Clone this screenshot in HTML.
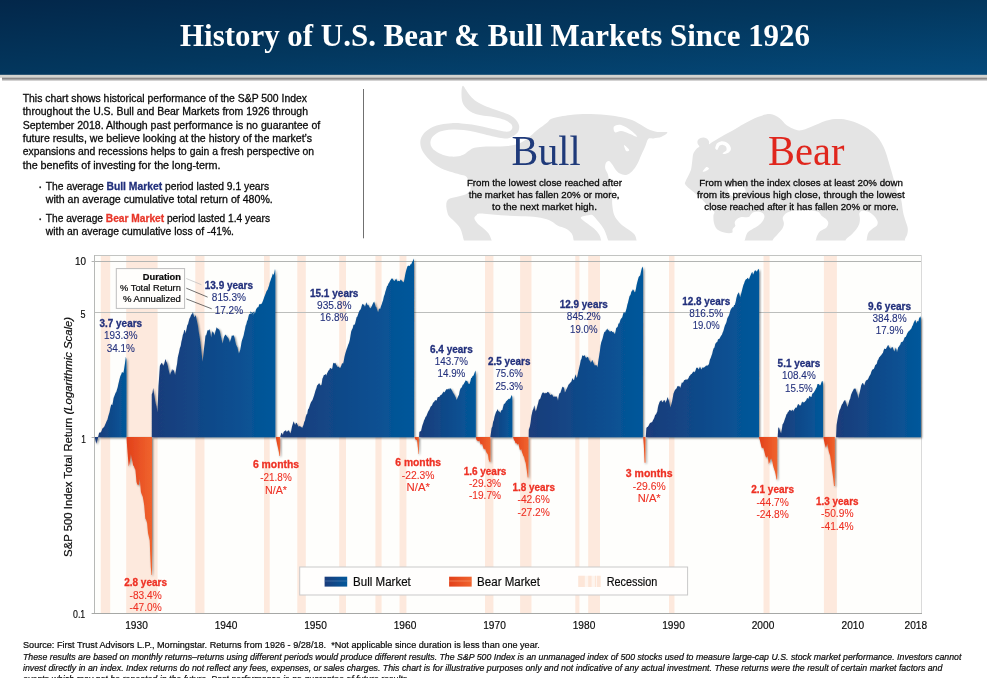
<!DOCTYPE html>
<html lang="en"><head><meta charset="utf-8"><title>History of U.S. Bear &amp; Bull Markets Since 1926</title>
<style>
html,body{margin:0;padding:0;background:#fff;}
body{width:987px;height:678px;overflow:hidden;position:relative;font-family:"Liberation Sans",sans-serif;}
svg{position:absolute;left:0;top:0;display:block}
text{font-family:"Liberation Sans",sans-serif;}
.serif{font-family:"Liberation Serif",serif;}
.b{font-weight:bold}
.i{font-style:italic}
.body{font-size:10.2px;fill:#0a0a0a;stroke:#0a0a0a;stroke-width:0.28px}
.def{font-size:9.6px;fill:#0a0a0a;stroke:#0a0a0a;stroke-width:0.28px}
.bl{fill:#22307c;font-size:10.7px;stroke:#22307c;stroke-width:0.1px}
.bl.b{stroke-width:0.3px}
.br{fill:#ee3124;font-size:10.7px;stroke:#ee3124;stroke-width:0.1px}
.br.b{stroke-width:0.3px}
.ax{font-size:10.8px;fill:#0a0a0a;stroke:#0a0a0a;stroke-width:0.18px}
.ft{font-size:9.6px;fill:#0a0a0a;stroke:#0a0a0a;stroke-width:0.22px}
</style></head><body>
<svg width="987" height="678" viewBox="0 0 987 678">
<defs>
<linearGradient id="hdr" x1="0" y1="0" x2="1" y2="1">
<stop offset="0" stop-color="#03274a"/><stop offset="0.5" stop-color="#03375e"/><stop offset="1" stop-color="#044a7b"/>
</linearGradient>
<linearGradient id="hshadow" x1="0" y1="0" x2="0" y2="1">
<stop offset="0" stop-color="#d6d6d2"/><stop offset="0.48" stop-color="#d0d0cc"/><stop offset="0.5" stop-color="#8c8a8a"/><stop offset="0.8" stop-color="#9a9898"/><stop offset="1" stop-color="#ffffff"/>
</linearGradient>
<linearGradient id="bearg" x1="0" y1="0" x2="1" y2="0">
<stop offset="0" stop-color="#e2401a"/><stop offset="1" stop-color="#f0642e"/>
</linearGradient>
<filter id="ds" x="-5%" y="-5%" width="112%" height="112%">
<feGaussianBlur in="SourceAlpha" stdDeviation="1.1"/><feOffset dx="1.2" dy="1.2"/>
<feComponentTransfer><feFuncA type="linear" slope="0.55"/></feComponentTransfer>
<feMerge><feMergeNode/><feMergeNode in="SourceGraphic"/></feMerge>
</filter>
<clipPath id="silclip"><rect x="400" y="80" width="587" height="160.6"/></clipPath>
<clipPath id="plotclip"><rect x="94" y="256" width="927" height="356.5"/></clipPath>

<linearGradient id="bg1" gradientUnits="userSpaceOnUse" x1="98.0" y1="0" x2="126.4" y2="0"><stop offset="0" stop-color="#1b3c7a"/><stop offset="1" stop-color="#02589b"/></linearGradient>
<linearGradient id="bg2" gradientUnits="userSpaceOnUse" x1="152.0" y1="0" x2="275.3" y2="0"><stop offset="0" stop-color="#1b3c7a"/><stop offset="1" stop-color="#02589b"/></linearGradient>
<linearGradient id="bg3" gradientUnits="userSpaceOnUse" x1="280.5" y1="0" x2="414.1" y2="0"><stop offset="0" stop-color="#1b3c7a"/><stop offset="1" stop-color="#02589b"/></linearGradient>
<linearGradient id="bg4" gradientUnits="userSpaceOnUse" x1="419.1" y1="0" x2="475.8" y2="0"><stop offset="0" stop-color="#1b3c7a"/><stop offset="1" stop-color="#02589b"/></linearGradient>
<linearGradient id="bg5" gradientUnits="userSpaceOnUse" x1="490.4" y1="0" x2="512.3" y2="0"><stop offset="0" stop-color="#1b3c7a"/><stop offset="1" stop-color="#02589b"/></linearGradient>
<linearGradient id="bg6" gradientUnits="userSpaceOnUse" x1="528.7" y1="0" x2="642.9" y2="0"><stop offset="0" stop-color="#1b3c7a"/><stop offset="1" stop-color="#02589b"/></linearGradient>
<linearGradient id="bg7" gradientUnits="userSpaceOnUse" x1="645.8" y1="0" x2="759.0" y2="0"><stop offset="0" stop-color="#1b3c7a"/><stop offset="1" stop-color="#02589b"/></linearGradient>
<linearGradient id="bg8" gradientUnits="userSpaceOnUse" x1="777.7" y1="0" x2="823.0" y2="0"><stop offset="0" stop-color="#1b3c7a"/><stop offset="1" stop-color="#02589b"/></linearGradient>
<linearGradient id="bg9" gradientUnits="userSpaceOnUse" x1="836.1" y1="0" x2="920.9" y2="0"><stop offset="0" stop-color="#1b3c7a"/><stop offset="1" stop-color="#02589b"/></linearGradient>
</defs>
<rect x="0" y="0" width="987" height="75" fill="url(#hdr)"/>
<rect x="0" y="74.8" width="987" height="3" fill="#d4d4d0"/>
<rect x="2" y="77.6" width="985" height="2.2" fill="#8b8989"/>
<rect x="2" y="79.8" width="985" height="1" fill="#c9c8c8"/>
<text class="serif b" x="180" y="46" font-size="31.5" fill="#fff" textLength="630" lengthAdjust="spacingAndGlyphs">History of U.S. Bear &amp; Bull Markets Since 1926</text>
<g clip-path="url(#silclip)" fill="#e4e4e4">
<path d="M463.0,85.7 C463.8,85.7 464.9,88.3 466.1,90.0 C467.3,91.7 468.7,94.2 470.4,96.1 C472.1,98.0 473.9,99.9 476.5,101.6 C479.1,103.3 482.6,104.9 486.2,106.4 C489.8,107.9 494.8,109.4 498.4,110.7 C502.0,112.0 505.3,112.9 508.1,114.3 C510.9,115.7 513.6,117.4 515.4,119.2 C517.2,121.0 518.5,123.3 519.0,125.3 C519.5,127.3 519.2,129.6 518.4,131.3 C517.6,133.0 515.9,134.4 514.2,135.6 C512.6,136.8 510.4,137.8 508.5,138.2 C506.6,138.6 505.2,138.4 502.9,138.2 C500.6,138.0 497.7,137.5 494.6,136.8 C491.5,136.2 487.7,135.2 484.3,134.3 C480.9,133.5 477.4,132.4 474.0,131.7 C470.6,131.0 467.1,130.4 463.7,130.1 C460.2,129.8 456.6,129.5 453.3,129.6 C450.0,129.7 446.9,130.0 444.1,130.6 C441.4,131.2 438.8,132.1 436.8,133.2 C434.8,134.3 433.3,135.8 432.2,137.3 C431.1,138.9 430.5,140.8 430.4,142.5 C430.3,144.2 430.8,145.7 431.7,147.2 C432.6,148.7 433.9,150.0 435.8,151.3 C437.7,152.6 440.4,154.0 443.0,154.9 C445.6,155.8 448.7,156.4 451.3,156.6 C453.9,156.8 456.3,156.6 458.5,156.2 C460.7,155.8 463.0,154.8 464.7,153.9 C466.4,153.0 467.4,151.8 468.8,150.8 C470.2,149.9 471.1,148.8 473.0,148.2 C474.9,147.5 476.9,147.2 480.2,146.9 C483.5,146.6 488.0,146.8 492.6,146.6 C497.2,146.4 503.7,146.5 508.1,146.0 C512.5,145.5 515.8,144.7 519.0,143.5 C522.2,142.3 524.5,140.8 527.5,138.6 C530.5,136.4 534.0,132.7 537.3,130.1 C540.5,127.5 544.5,124.7 547.0,122.8 C549.5,120.9 548.3,119.8 552.2,118.5 C556.1,117.2 564.0,115.6 570.4,114.9 C576.8,114.2 584.0,114.0 590.7,114.1 C597.5,114.2 605.2,114.8 610.9,115.5 C616.6,116.2 621.0,117.1 625.1,118.1 C629.2,119.1 631.5,119.8 635.2,121.6 C638.9,123.4 643.7,127.0 647.4,128.7 C651.1,130.4 654.2,131.3 657.5,131.9 C660.8,132.5 666.6,131.5 667.3,132.3 C668.0,133.1 663.9,135.8 661.6,136.8 C659.3,137.8 655.7,138.1 653.5,138.4 C651.3,138.7 649.8,137.6 648.4,138.8 C647.0,140.1 646.6,143.2 645.4,145.9 C644.2,148.6 642.6,152.0 641.3,155.0 C639.9,158.0 638.8,161.4 637.3,164.1 C635.8,166.8 634.1,169.4 632.2,171.2 C630.3,173.0 628.1,174.5 626.1,174.9 C624.1,175.3 621.7,174.4 620.0,173.6 C618.3,172.8 617.4,171.8 616.0,170.2 C614.6,168.6 613.1,165.6 611.9,164.1 C610.7,162.6 609.9,161.3 608.9,161.1 C607.9,160.9 606.5,161.9 605.9,163.1 C605.3,164.3 604.9,166.3 605.2,168.2 C605.5,170.1 607.3,172.3 607.9,174.3 C608.5,176.3 608.4,177.4 609.0,180.0 C609.6,182.6 611.0,187.0 611.5,190.0 C612.0,193.0 612.1,195.5 612.2,198.0 C612.3,200.5 611.9,202.2 612.3,205.1 C612.6,208.0 613.0,212.2 614.3,215.3 C615.6,218.4 617.9,221.1 620.3,223.4 C622.6,225.8 626.0,227.6 628.4,229.4 C630.8,231.2 633.1,232.6 634.5,234.5 C635.9,236.4 636.1,238.7 636.6,240.6 C637.1,242.5 642.0,245.1 637.5,246.0 C633.0,246.9 614.4,246.9 609.5,246.0 C604.6,245.1 609.1,243.3 608.2,240.6 C607.3,237.8 605.8,232.7 604.1,229.5 C602.4,226.3 599.9,223.6 598.1,221.3 C596.3,219.1 594.9,217.1 593.5,216.0 C592.1,214.9 591.8,214.8 590.0,214.9 C588.2,215.0 584.4,215.7 582.9,216.3 C581.4,216.9 580.3,217.3 580.8,218.3 C581.3,219.3 583.7,220.7 585.9,222.4 C588.1,224.1 591.8,226.4 594.0,228.4 C596.2,230.4 597.9,232.5 599.1,234.5 C600.3,236.5 600.7,238.7 601.1,240.6 C601.5,242.5 606.3,245.1 601.8,246.0 C597.3,246.9 578.9,246.9 574.2,246.0 C569.5,245.1 574.1,242.7 573.7,240.6 C573.3,238.5 573.1,235.5 571.7,233.5 C570.4,231.5 568.0,229.8 565.6,228.4 C563.2,227.1 560.2,226.8 557.5,225.4 C554.8,224.1 552.8,221.7 549.4,220.3 C546.0,219.0 542.0,218.0 537.3,217.3 C532.6,216.6 527.1,216.6 521.0,216.3 C514.9,216.0 507.6,215.8 500.8,215.3 C494.1,214.9 484.6,213.6 480.5,213.6 C476.4,213.6 477.5,214.5 476.5,215.3 C475.5,216.1 474.2,217.0 474.4,218.3 C474.6,219.7 476.0,221.7 477.5,223.4 C479.0,225.1 481.8,226.7 483.6,228.4 C485.5,230.1 487.2,231.5 488.6,233.5 C490.0,235.5 491.0,238.5 491.7,240.6 C492.4,242.7 497.4,245.1 493.0,246.0 C488.6,246.9 469.9,246.9 465.0,246.0 C460.1,245.1 464.7,243.5 463.9,240.6 C463.1,237.7 461.9,231.6 460.3,228.4 C458.7,225.2 456.1,223.4 454.2,221.3 C452.3,219.2 450.0,217.6 448.9,216.0 C447.8,214.4 447.7,213.4 447.3,211.9 C446.9,210.4 446.4,208.5 446.3,206.8 C446.2,205.1 446.2,203.0 446.8,201.6 C447.4,200.2 448.0,199.4 449.9,198.5 C451.8,197.6 455.6,197.1 458.2,196.4 C460.8,195.7 463.5,195.2 465.4,194.4 C467.3,193.6 468.6,192.5 469.5,191.3 C470.4,190.1 470.8,188.9 470.6,187.2 C470.4,185.5 469.2,182.7 468.5,181.0 C467.8,179.3 467.3,177.8 466.4,176.8 C465.5,175.9 465.2,175.9 463.3,175.3 C461.4,174.7 458.4,174.1 455.1,173.2 C451.8,172.2 447.3,171.2 443.7,169.6 C440.1,168.0 436.3,165.6 433.4,163.4 C430.5,161.2 428.1,158.4 426.2,156.2 C424.3,154.0 423.0,152.2 422.0,150.0 C421.0,147.8 420.4,145.1 420.3,143.0 C420.2,140.9 420.5,139.2 421.4,137.3 C422.3,135.4 423.6,133.4 425.5,131.7 C427.4,130.0 430.1,128.2 432.7,127.0 C435.3,125.8 437.9,125.0 441.0,124.4 C444.1,123.8 447.9,123.4 451.3,123.2 C454.7,123.0 458.2,123.2 461.6,123.4 C465.0,123.6 468.5,123.9 471.9,124.4 C475.3,124.9 478.8,125.7 482.2,126.5 C485.6,127.3 489.2,128.3 492.6,129.1 C496.1,129.9 500.2,130.8 502.9,131.2 C505.5,131.6 507.0,131.9 508.5,131.6 C510.0,131.3 511.2,130.0 511.8,129.2 C512.4,128.3 512.5,127.5 512.3,126.5 C512.1,125.5 511.8,124.5 510.5,123.4 C509.2,122.3 506.8,120.8 504.4,119.8 C502.0,118.8 498.9,118.0 495.9,117.4 C492.9,116.8 489.4,116.6 486.2,116.1 C483.0,115.6 479.3,115.2 476.5,114.3 C473.7,113.4 471.2,112.1 469.2,110.7 C467.2,109.3 465.5,107.6 464.3,105.8 C463.1,104.0 462.3,102.3 461.9,99.7 C461.4,97.1 461.4,92.3 461.6,90.0 C461.8,87.7 462.2,85.7 463.0,85.7Z"/>
<path fill="#fff" d="M614.0,126.6 C615.0,125.4 618.2,124.3 621.1,125.0 C624.0,125.7 628.5,128.7 631.2,130.7 C633.9,132.7 637.6,136.3 637.3,136.8 C637.0,137.3 631.9,134.6 629.2,133.7 C626.5,132.8 623.5,131.3 621.1,131.1 C618.7,130.9 616.2,133.1 615.0,132.3 C613.8,131.6 613.0,127.8 614.0,126.6Z"/>
<path fill="#fff" d="M624.1,144.9 C624.6,144.7 628.9,148.9 629.2,149.9 C629.5,150.9 627.0,151.7 626.1,150.9 C625.2,150.1 623.6,145.1 624.1,144.9Z"/>
<path d="M693.3,153.8 C694.0,151.7 695.6,150.0 696.6,148.8 C697.6,147.6 699.2,147.4 699.4,146.6 C699.6,145.8 698.0,144.8 697.7,143.8 C697.4,142.8 697.2,141.4 697.7,140.5 C698.2,139.6 699.5,138.6 700.5,138.1 C701.5,137.6 702.7,137.4 703.8,137.5 C704.9,137.6 706.2,138.1 707.1,138.8 C708.0,139.5 708.6,140.7 709.0,141.6 C709.4,142.5 708.6,144.2 709.3,144.2 C710.0,144.2 710.7,143.1 713.2,141.6 C715.7,140.1 720.5,137.1 724.2,135.0 C727.9,132.9 732.1,130.7 735.3,128.9 C738.5,127.1 739.5,126.3 743.2,124.3 C747.0,122.3 753.3,118.7 757.8,117.0 C762.3,115.3 766.4,113.9 770.0,114.1 C773.6,114.3 776.9,116.3 779.7,118.2 C782.5,120.1 783.8,123.5 787.0,125.5 C790.2,127.5 795.1,130.2 799.1,130.4 C803.1,130.6 806.8,128.3 811.3,126.7 C815.8,125.1 821.4,122.0 825.9,120.7 C830.4,119.4 834.0,119.0 838.1,119.0 C842.2,119.0 845.8,119.4 850.2,120.7 C854.7,122.0 860.3,124.1 864.8,126.7 C869.3,129.3 873.8,132.8 877.0,136.5 C880.2,140.2 882.3,144.2 884.3,148.6 C886.3,153.0 887.5,157.9 889.1,163.2 C890.7,168.5 892.6,175.1 894.0,180.2 C895.4,185.3 896.4,190.3 897.6,193.6 C898.8,196.9 900.3,196.9 901.2,200.0 C902.1,203.1 902.4,208.8 903.1,212.2 C903.8,215.6 904.7,218.1 905.5,220.7 C906.3,223.3 907.4,225.8 907.7,228.0 C908.0,230.2 907.8,232.1 907.3,234.0 C906.8,235.9 905.4,237.5 904.9,239.5 C904.4,241.5 910.4,244.9 904.0,246.0 C897.6,247.1 872.7,247.1 866.5,246.0 C860.3,244.9 866.5,241.7 866.8,239.5 C867.1,237.3 867.4,234.6 868.4,232.8 C869.4,231.0 871.3,229.8 872.7,228.6 C874.1,227.4 876.1,226.7 876.9,225.5 C877.7,224.3 878.0,222.9 877.5,221.3 C877.0,219.7 875.5,217.4 873.9,215.8 C872.3,214.2 869.8,212.4 867.8,211.6 C865.8,210.8 863.1,210.6 861.7,210.9 C860.3,211.2 859.6,212.2 859.3,213.4 C859.0,214.6 859.9,216.5 859.9,218.2 C859.9,219.9 859.9,221.9 859.3,223.7 C858.7,225.5 857.7,227.3 856.3,229.2 C854.9,231.1 852.5,233.6 850.8,235.3 C849.1,237.0 847.2,237.7 845.9,239.5 C844.6,241.3 848.1,244.9 843.0,246.0 C837.9,247.1 820.0,247.1 815.5,246.0 C811.0,244.9 815.8,241.3 816.1,239.5 C816.4,237.7 816.7,236.7 817.4,235.3 C818.1,233.9 818.9,232.3 820.4,231.0 C821.9,229.7 825.2,228.7 826.5,227.4 C827.8,226.1 828.3,224.4 828.3,223.1 C828.3,221.8 827.6,220.7 826.5,219.5 C825.4,218.3 823.1,217.1 821.6,215.8 C820.1,214.5 820.2,212.5 817.4,211.6 C814.6,210.7 808.6,210.5 805.0,210.3 C801.4,210.1 798.5,210.4 796.0,210.6 C793.5,210.8 791.8,211.0 790.0,211.6 C788.2,212.2 786.3,212.9 785.1,214.0 C783.9,215.1 782.9,216.7 782.7,218.2 C782.5,219.7 783.9,221.5 783.9,223.1 C783.9,224.7 783.7,226.2 782.7,228.0 C781.7,229.8 779.4,232.1 777.8,234.0 C776.2,235.9 774.3,237.5 773.0,239.5 C771.7,241.5 774.8,244.9 770.0,246.0 C765.2,247.1 748.2,247.1 744.0,246.0 C739.8,244.9 744.4,241.7 745.0,239.5 C745.6,237.3 746.2,234.5 747.4,232.8 C748.6,231.1 750.5,230.4 752.3,229.2 C754.1,228.0 756.7,226.8 758.4,225.5 C760.1,224.2 761.6,222.7 762.6,221.3 C763.6,219.9 764.3,218.3 764.4,217.0 C764.5,215.7 764.2,214.3 763.2,213.4 C762.2,212.5 760.0,211.8 758.4,211.6 C756.8,211.4 754.7,211.8 753.5,212.2 C752.3,212.6 751.9,213.2 751.1,214.0 C750.3,214.8 750.2,216.5 748.6,217.0 C747.0,217.5 743.3,216.6 741.3,217.0 C739.3,217.4 737.6,218.6 736.5,219.5 C735.4,220.4 734.9,221.4 734.7,222.5 C734.5,223.6 735.6,225.0 735.3,226.1 C734.9,227.2 733.2,228.1 732.6,229.2 C732.0,230.3 733.3,232.2 731.9,232.8 C730.5,233.4 726.8,233.2 724.3,232.6 C721.8,232.0 718.7,230.8 717.0,229.2 C715.3,227.6 714.6,225.3 714.0,223.1 C713.4,220.9 713.4,217.8 713.4,215.8 C713.4,213.8 715.2,213.2 714.1,211.3 C713.0,209.4 709.2,206.7 707.0,204.5 C704.8,202.3 702.5,199.7 700.6,197.9 C698.7,196.1 697.4,195.2 695.5,193.7 C693.6,192.1 691.0,190.2 689.3,188.6 C687.6,187.0 685.8,185.4 685.2,184.2 C684.6,183.0 684.9,183.1 685.5,181.5 C686.1,179.9 687.9,176.9 688.8,174.8 C689.7,172.8 690.5,171.4 691.1,169.2 C691.7,167.0 691.8,164.1 692.2,161.5 C692.6,158.9 692.6,155.9 693.3,153.8Z"/>
<path fill="#fff" d="M715.4,147.1 C715.7,146.2 716.2,144.2 717.1,143.3 C718.0,142.4 719.4,141.6 720.9,141.4 C722.4,141.2 724.4,141.4 725.9,142.1 C727.4,142.8 729.0,144.3 729.8,145.5 C730.6,146.7 731.1,148.2 730.9,149.3 C730.7,150.5 729.8,151.6 728.7,152.4 C727.6,153.2 725.2,153.8 724.2,154.0 C723.2,154.2 722.6,153.9 722.6,153.6 C722.6,153.3 723.6,152.7 724.2,152.1 C724.9,151.5 726.2,150.8 726.5,149.9 C726.8,149.0 726.5,147.4 725.9,146.6 C725.3,145.8 724.1,145.1 723.1,144.9 C722.1,144.7 720.6,144.9 719.8,145.5 C719.0,146.1 718.7,147.5 718.2,148.2 C717.8,148.9 717.6,149.8 717.1,149.9 C716.6,150.0 715.7,149.3 715.4,148.8 C715.1,148.3 715.1,148.0 715.4,147.1Z"/>
<path fill="#fff" d="M702.7,171.5 C702.8,170.8 705.5,167.5 706.5,167.0 C707.5,166.5 709.1,168.0 709.0,168.7 C708.9,169.3 707.0,170.4 706.0,170.9 C705.0,171.4 702.6,172.2 702.7,171.5Z"/>
<path fill="#fff" d="M729.0,187.5 C731.2,186.5 738.8,185.9 741.5,186.3 C744.2,186.7 745.1,188.4 745.5,189.8 C745.9,191.2 745.2,193.3 744.0,194.5 C742.8,195.7 740.0,196.5 738.0,196.8 C736.0,197.1 733.6,197.0 732.0,196.3 C730.4,195.6 728.7,194.0 728.2,192.5 C727.7,191.0 726.8,188.5 729.0,187.5Z"/>
</g>
<rect x="363" y="89" width="1" height="149.3" fill="#707070"/>
<text class="body" x="22.7" y="101.6" textLength="284.3" lengthAdjust="spacingAndGlyphs">This chart shows historical performance of the S&amp;P 500 Index</text>
<text class="body" x="22.7" y="115.0" textLength="285.3" lengthAdjust="spacingAndGlyphs">throughout the U.S. Bull and Bear Markets from 1926 through</text>
<text class="body" x="22.7" y="128.5" textLength="297.5" lengthAdjust="spacingAndGlyphs">September 2018. Although past performance is no guarantee of</text>
<text class="body" x="22.7" y="141.9" textLength="289.4" lengthAdjust="spacingAndGlyphs">future results, we believe looking at the history of the market’s</text>
<text class="body" x="22.7" y="155.4" textLength="291.4" lengthAdjust="spacingAndGlyphs">expansions and recessions helps to gain a fresh perspective on</text>
<text class="body" x="22.7" y="168.8" textLength="197.8" lengthAdjust="spacingAndGlyphs">the benefits of investing for the long-term.</text>
<text class="body" x="39.2" y="189.2" style="font-size:5.5px">•</text>
<text class="body" x="45.8" y="189.9" textLength="223.4" lengthAdjust="spacingAndGlyphs">The average <tspan class="b" fill="#22307c" stroke="#22307c">Bull Market</tspan> period lasted 9.1 years</text>
<text class="body" x="45.8" y="203.4" textLength="227.0" lengthAdjust="spacingAndGlyphs">with an average cumulative total return of 480%.</text>
<text class="body" x="39.2" y="221.0" style="font-size:5.5px">•</text>
<text class="body" x="45.8" y="221.7" textLength="224.2" lengthAdjust="spacingAndGlyphs">The average <tspan class="b" fill="#e8372a" stroke="#e8372a">Bear Market</tspan> period lasted 1.4 years</text>
<text class="body" x="45.8" y="234.8" textLength="188.2" lengthAdjust="spacingAndGlyphs">with an average cumulative loss of -41%.</text>
<text class="serif" x="511.6" y="165.1" font-size="41.8" fill="#1f3a7a" textLength="69" lengthAdjust="spacingAndGlyphs">Bull</text>
<text class="serif" x="768.1" y="165.0" font-size="41.8" fill="#e0261d" textLength="76.3" lengthAdjust="spacingAndGlyphs">Bear</text>
<text class="def" x="466.9" y="186.1" textLength="155.0" lengthAdjust="spacingAndGlyphs">From the lowest close reached after</text>
<text class="def" x="468.7" y="198.0" textLength="150.8" lengthAdjust="spacingAndGlyphs">the market has fallen 20% or more,</text>
<text class="def" x="492.1" y="209.6" textLength="104.9" lengthAdjust="spacingAndGlyphs">to the next market high.</text>
<text class="def" x="699.3" y="185.8" textLength="203.7" lengthAdjust="spacingAndGlyphs">From when the index closes at least 20% down</text>
<text class="def" x="697.1" y="197.8" textLength="207.8" lengthAdjust="spacingAndGlyphs">from its previous high close, through the lowest</text>
<text class="def" x="704.3" y="209.7" textLength="194.4" lengthAdjust="spacingAndGlyphs">close reached after it has fallen 20% or more.</text>
<rect x="94" y="255" width="827.5" height="358.5" fill="#fefefc"/>
<rect x="100.8" y="256" width="9.4" height="357" fill="#fde9dd"/>
<rect x="126.2" y="256" width="31.4" height="357" fill="#fde9dd"/>
<rect x="195.3" y="256" width="9.2" height="357" fill="#fde9dd"/>
<rect x="264.0" y="256" width="5.7" height="357" fill="#fde9dd"/>
<rect x="297.3" y="256" width="8.5" height="357" fill="#fde9dd"/>
<rect x="339.2" y="256" width="6.8" height="357" fill="#fde9dd"/>
<rect x="375.4" y="256" width="6.2" height="357" fill="#fde9dd"/>
<rect x="399.5" y="256" width="6.9" height="357" fill="#fde9dd"/>
<rect x="485.0" y="256" width="8.4" height="357" fill="#fde9dd"/>
<rect x="520.1" y="256" width="11.4" height="357" fill="#fde9dd"/>
<rect x="575.3" y="256" width="4.1" height="357" fill="#fde9dd"/>
<rect x="588.2" y="256" width="11.8" height="357" fill="#fde9dd"/>
<rect x="669.0" y="256" width="5.5" height="357" fill="#fde9dd"/>
<rect x="763.5" y="256" width="6.1" height="357" fill="#fde9dd"/>
<rect x="823.9" y="256" width="13.0" height="357" fill="#fde9dd"/>
<rect x="91.6" y="261" width="830" height="1" fill="#b2b4b2"/>
<rect x="95" y="312" width="826" height="1" fill="#bcbebc"/>
<rect x="94" y="255" width="828" height="1" fill="#c2c4c2"/>
<rect x="921" y="255" width="1" height="359" fill="#dadada"/>
<rect x="94" y="255" width="1" height="359" fill="#b6b8b6"/>
<rect x="91.6" y="613" width="830.4" height="1" fill="#a6a8a6"/>
<rect x="91.6" y="437" width="2.4" height="1" fill="#b0b0b0"/>
<g filter="url(#ds)">
<polygon fill="#1b3c7a" points="94.6,437.0 96.3,443.8 98.4,437.0"/>
<polygon fill="url(#bearg)" points="126.5,437.0 126.5,437.3 127.2,447.7 127.9,457.0 128.7,466.5 129.4,464.1 130.2,459.6 130.9,454.3 131.6,457.9 132.4,461.5 133.1,465.4 133.9,466.1 134.6,468.3 135.4,469.8 136.5,482.0 137.2,484.2 138.0,484.9 138.7,485.3 139.8,478.7 140.9,491.9 141.8,494.4 142.7,496.4 143.4,500.2 144.2,505.2 145.3,518.5 146.2,519.9 147.1,522.9 148.0,532.9 148.8,536.4 149.7,540.6 150.2,553.9 150.8,567.2 151.5,574.9 152.0,574.9 152.0,437.0"/>
<polygon fill="url(#bearg)" points="275.9,437.0 275.9,437.7 276.5,441.0 277.2,444.4 278.0,448.0 278.8,451.7 279.5,455.9 280.1,455.9 280.1,437.0"/>
<polygon fill="url(#bearg)" points="414.6,437.0 414.6,437.8 415.4,439.4 416.3,440.1 417.1,440.6 417.8,447.0 418.5,454.1 418.9,454.1 418.9,437.0"/>
<polygon fill="url(#bearg)" points="475.9,437.0 475.9,437.8 476.6,440.2 477.3,440.6 478.0,441.3 478.8,441.0 479.5,440.6 480.2,443.3 480.9,444.9 481.6,444.1 482.3,444.2 483.0,447.0 483.7,449.1 484.4,449.4 485.1,448.4 485.9,450.7 486.6,452.7 487.3,453.6 488.0,454.8 488.7,459.8 489.7,461.9 490.4,461.9 490.4,437.0"/>
<polygon fill="url(#bearg)" points="513.1,437.0 513.1,437.8 514.0,440.1 514.9,441.3 515.6,443.4 516.4,443.1 517.1,444.2 517.8,444.6 518.5,443.5 519.2,447.3 519.9,449.9 520.6,449.7 521.3,449.1 522.0,452.2 522.7,454.1 523.4,456.1 524.1,457.0 524.9,460.8 525.6,462.6 526.7,469.7 527.7,477.5 528.4,477.5 528.4,437.0"/>
<polygon fill="url(#bearg)" points="643.2,437.0 643.2,437.5 643.8,445.0 644.6,462.8 645.5,462.8 645.5,437.0"/>
<polygon fill="url(#bearg)" points="758.9,437.0 758.9,437.8 759.8,440.1 760.6,443.5 761.3,446.6 762.0,448.4 762.7,447.7 763.4,447.7 764.1,450.4 764.8,453.4 765.5,455.9 766.2,457.7 767.0,456.8 767.7,456.2 768.8,464.0 769.5,462.7 770.1,460.5 770.8,459.1 771.5,458.4 772.2,461.3 772.9,464.8 773.6,467.4 774.3,469.7 774.9,471.6 775.5,474.0 776.5,479.6 777.2,479.6 777.2,437.0"/>
<polygon fill="url(#bearg)" points="823.4,437.0 823.4,437.8 824.1,441.0 824.8,444.2 825.8,447.7 826.5,446.2 827.2,443.5 828.0,447.1 828.7,451.3 829.4,453.5 830.1,455.5 831.1,462.6 832.2,471.1 833.2,478.2 834.0,486.0 834.8,486.0 834.8,437.0"/>
<polygon fill="url(#bg1)" points="98.0,437.3 98.1,437.1 99.1,432.7 99.9,432.6 100.7,432.6 101.4,431.2 102.2,429.0 103.0,427.7 103.7,427.5 104.5,426.3 105.2,424.6 106.0,422.8 106.7,420.9 107.5,419.4 108.2,416.4 108.9,414.2 109.6,412.0 110.3,408.3 111.3,404.3 112.3,405.3 113.0,401.7 113.6,397.9 114.3,396.2 115.0,394.6 115.6,392.7 116.3,392.1 117.0,389.4 117.7,387.3 118.4,384.0 119.1,380.9 119.7,378.5 120.4,375.9 121.2,374.5 122.0,371.9 122.7,372.6 123.4,372.9 124.2,368.6 124.9,363.8 125.9,356.7 126.5,359.7 126.4,437.3"/>
<polygon fill="url(#bg2)" points="152.0,437.3 151.8,437.1 151.8,394.2 152.5,392.7 153.2,388.1 154.0,393.3 154.8,398.2 155.7,403.4 156.5,406.3 157.5,412.4 158.5,386.1 159.2,376.1 159.9,365.8 160.6,364.5 161.2,363.5 161.9,362.8 162.7,364.6 163.4,365.8 164.2,363.7 165.0,360.7 165.7,359.0 166.3,361.7 167.0,362.8 167.8,365.8 168.6,369.8 169.3,372.4 170.0,374.9 170.7,372.7 171.4,371.6 172.1,368.8 172.8,370.7 173.5,369.8 174.3,372.2 175.1,374.9 175.8,371.3 176.4,367.2 177.1,363.8 177.8,357.5 178.5,354.6 179.2,351.6 179.9,347.9 180.7,346.1 181.4,341.8 182.2,338.4 182.9,334.8 183.5,333.5 184.2,330.3 184.9,329.9 185.6,333.4 186.4,329.7 187.3,325.3 188.1,323.9 188.8,320.9 189.6,318.3 190.3,317.2 191.2,314.6 192.0,314.3 192.9,312.1 193.7,315.3 194.4,317.2 195.1,316.5 195.8,315.1 196.6,319.8 197.4,323.2 198.1,327.1 198.7,331.7 199.4,335.4 200.2,341.1 201.0,347.6 201.8,354.8 202.5,361.7 203.2,356.2 203.9,349.6 204.7,343.1 205.5,335.4 206.2,335.2 206.8,333.2 207.5,330.3 208.2,330.6 208.9,330.1 209.6,329.3 210.4,332.9 211.2,337.4 211.9,333.3 212.6,331.3 213.3,332.3 213.9,333.4 214.6,335.4 215.3,331.7 215.9,329.9 216.6,327.3 217.3,328.2 218.0,328.8 218.7,329.3 219.4,330.1 220.0,331.9 220.7,335.4 221.4,338.3 222.0,341.1 222.7,343.5 223.4,339.6 224.1,336.7 224.8,335.4 225.6,334.4 226.3,335.5 227.1,336.8 227.8,337.4 228.5,338.4 229.1,340.0 229.8,342.5 230.5,340.3 231.1,338.5 231.8,335.4 232.5,335.8 233.2,335.5 233.9,335.4 234.7,338.4 235.5,342.5 236.2,345.1 236.8,346.2 237.5,347.6 238.2,350.9 238.9,353.6 239.6,351.8 240.3,349.4 241.0,345.5 241.7,341.6 242.3,339.6 243.0,337.4 243.7,335.3 244.3,332.3 245.0,329.3 245.7,325.4 246.3,324.5 247.0,321.2 247.7,320.1 248.4,316.9 249.1,314.1 249.8,314.2 250.4,313.8 251.1,313.1 251.8,314.0 252.4,314.7 253.1,315.1 253.8,314.3 254.4,313.0 255.1,312.1 254.3,311.7 253.6,311.8 252.8,312.8 252.1,312.8 251.3,312.1 250.6,311.6 249.8,313.1 249.1,313.4 249.8,313.1 250.4,312.8 251.1,312.8 251.8,313.1 252.4,314.4 253.1,315.4 253.8,312.4 254.4,312.1 255.1,313.3 255.8,310.3 256.4,308.7 257.1,308.1 257.8,307.0 258.4,307.2 259.1,304.8 259.8,304.0 260.5,304.3 261.1,304.1 261.8,303.5 262.4,302.2 263.1,300.6 263.7,298.8 264.4,296.7 265.0,295.3 265.7,293.5 266.4,291.4 267.0,290.5 267.7,289.5 268.4,287.2 269.1,285.5 269.7,282.8 270.4,281.0 271.0,278.9 271.9,276.7 272.8,273.6 273.7,274.9 274.4,272.2 275.0,268.9 275.3,270.9 275.3,437.3"/>
<polygon fill="url(#bg3)" points="280.5,437.3 280.3,436.8 281.4,432.7 282.1,433.3 282.9,435.0 283.6,432.1 284.4,431.2 285.2,430.7 285.9,430.2 286.7,431.9 287.5,431.3 288.2,430.5 289.0,430.4 289.8,432.5 290.5,433.5 291.2,430.8 292.0,426.6 292.8,424.0 293.6,421.3 294.4,423.3 295.1,425.1 295.9,423.3 296.6,422.8 297.4,424.4 298.1,425.9 298.9,426.7 299.6,426.0 300.4,426.6 301.3,427.1 302.2,428.1 302.9,426.3 303.5,425.0 304.2,422.1 305.0,420.4 305.7,417.1 306.5,414.5 307.3,413.7 308.0,409.5 308.8,408.4 309.5,406.5 310.3,404.0 311.0,402.3 311.8,400.9 312.5,400.0 313.3,397.8 314.1,395.4 314.8,393.0 315.6,390.2 316.4,388.3 317.1,385.6 317.9,384.8 318.6,383.7 319.4,383.3 320.1,385.0 320.9,385.6 321.6,384.4 322.4,378.8 323.2,377.0 323.9,374.9 324.7,375.0 325.4,373.8 326.2,375.7 327.0,373.5 327.8,371.9 328.5,370.4 329.3,370.1 330.0,368.1 330.8,368.3 331.6,368.9 332.3,368.4 333.1,363.6 333.8,362.8 334.6,363.5 335.3,362.8 336.1,364.7 336.9,365.8 337.6,366.9 338.4,366.6 339.3,367.4 340.2,368.1 340.9,366.6 341.5,365.0 342.2,362.8 343.0,364.0 343.7,361.2 344.5,356.7 345.2,354.0 346.0,351.3 346.7,349.1 347.5,346.9 348.2,344.7 349.0,343.0 349.8,340.1 350.5,335.7 351.2,331.5 352.0,329.5 352.8,327.9 353.5,324.7 354.3,324.9 355.1,323.5 355.8,320.7 356.6,317.3 357.4,316.4 358.1,314.3 358.9,312.0 359.6,310.5 360.4,309.8 361.1,308.3 361.9,305.2 362.6,303.7 363.4,304.4 364.2,305.2 365.0,306.7 365.6,305.1 366.2,302.2 366.9,303.7 367.7,305.2 368.4,305.0 369.2,306.7 369.9,308.0 370.7,308.2 371.4,306.7 372.2,305.2 372.8,303.8 373.5,302.4 374.1,301.4 374.9,303.8 375.6,306.7 376.3,307.0 377.0,309.3 377.6,311.2 378.3,312.0 378.9,309.1 379.6,308.5 380.2,309.0 380.9,306.6 381.7,304.4 382.4,302.2 383.2,300.1 383.9,296.4 384.7,294.6 385.5,291.3 386.2,289.2 387.0,286.2 387.8,285.5 388.5,283.6 389.3,282.4 390.1,280.7 390.8,279.8 391.6,278.6 392.4,278.4 393.1,279.4 393.9,280.7 394.6,280.9 395.4,279.7 396.1,278.6 396.9,280.2 397.6,281.6 398.4,280.8 399.1,281.3 399.9,280.9 400.6,279.5 401.4,280.1 402.2,281.6 402.9,281.6 403.7,282.4 404.4,279.2 405.2,274.8 405.9,271.4 406.7,268.7 407.5,266.2 408.2,265.7 409.0,265.7 409.8,265.9 410.5,264.2 411.3,264.2 412.1,261.9 412.8,261.1 413.6,258.4 414.0,261.1 414.1,437.3"/>
<polygon fill="url(#bg4)" points="419.1,437.3 419.1,436.8 419.4,431.9 420.2,431.3 421.0,431.2 421.8,427.7 422.5,425.1 423.3,423.0 424.0,420.4 424.8,419.0 425.5,417.1 426.3,416.2 427.0,414.5 427.8,412.4 428.5,411.0 429.3,409.9 430.1,408.0 430.9,406.2 431.6,406.1 432.4,404.6 433.1,402.5 433.9,402.2 434.6,401.0 435.4,400.0 436.1,400.7 436.9,399.9 437.6,397.3 438.4,397.0 439.2,396.9 439.9,395.9 440.7,395.1 441.5,394.7 442.2,393.7 443.0,392.4 443.8,391.5 444.5,392.4 445.3,391.0 446.1,389.7 446.8,388.9 447.6,389.4 448.3,388.5 449.1,389.8 449.8,388.3 450.6,388.4 451.4,389.4 452.1,390.8 452.9,392.4 453.6,393.4 454.4,394.7 455.1,396.2 455.7,397.3 456.4,400.0 457.3,398.4 458.2,396.2 459.0,394.7 459.7,391.1 460.5,388.6 461.3,388.0 462.0,386.7 462.8,384.8 463.5,384.4 464.3,383.1 465.0,381.8 465.8,380.2 466.6,381.0 467.4,381.3 468.1,383.3 468.9,384.0 469.6,384.1 470.4,381.2 471.1,378.0 471.9,377.8 472.6,376.0 473.4,375.7 474.0,374.4 474.6,372.7 475.4,370.4 475.8,372.7 475.8,437.3"/>
<polygon fill="url(#bg5)" points="490.4,437.3 490.4,436.8 491.0,432.4 491.6,428.1 492.4,426.6 493.1,422.1 493.9,420.1 494.7,416.0 495.4,414.1 496.2,411.4 496.8,411.2 497.4,409.1 498.1,410.6 498.9,411.4 499.6,411.7 500.4,412.9 501.0,410.9 501.7,409.9 502.3,409.9 503.0,407.3 503.8,404.3 504.5,403.8 505.3,403.0 506.0,401.5 506.8,400.8 507.6,399.9 508.3,399.2 509.1,398.5 509.9,399.2 510.6,397.8 511.2,396.2 511.8,395.0 512.3,397.0 512.3,437.3"/>
<polygon fill="url(#bg6)" points="528.7,437.3 528.7,436.8 528.8,429.7 529.9,426.6 530.6,422.4 531.4,416.0 532.1,412.7 532.7,410.2 533.4,409.1 534.4,405.3 535.0,409.2 535.7,411.4 536.6,409.1 537.5,405.3 538.2,403.0 539.0,399.3 539.8,399.6 540.5,398.0 541.3,395.5 542.0,393.5 542.8,392.6 543.5,392.5 544.3,393.2 545.1,393.4 545.8,392.7 546.6,393.2 547.4,391.7 548.1,392.6 548.9,392.2 549.6,394.0 550.4,394.9 551.1,395.1 551.9,394.0 552.7,395.4 553.4,396.7 554.2,397.0 555.0,396.0 555.7,397.0 556.5,396.2 557.2,398.0 558.0,400.8 558.8,395.4 559.5,393.2 560.3,392.9 561.0,390.9 561.8,388.6 562.5,386.8 563.3,387.1 564.0,388.0 564.8,392.4 565.6,391.4 566.3,389.6 567.1,387.9 567.9,386.2 568.6,384.6 569.4,384.1 570.1,382.4 570.9,382.6 571.6,380.9 572.4,378.0 573.2,379.7 574.0,380.3 574.8,377.0 575.5,374.2 576.5,378.0 577.2,376.8 577.8,373.7 578.5,370.4 579.2,367.5 580.0,364.3 580.8,360.1 581.5,358.9 582.3,355.2 583.0,355.7 583.8,356.0 584.4,355.0 585.1,356.2 585.7,357.5 586.3,357.8 587.0,357.4 587.6,356.7 588.4,357.7 589.1,360.5 589.9,360.6 590.7,362.8 591.5,361.7 592.2,359.8 593.0,361.7 593.7,363.6 594.4,364.8 595.0,365.7 595.7,365.1 596.6,365.3 597.5,367.4 598.2,361.8 599.0,356.7 599.8,351.8 600.5,346.1 601.2,342.4 601.9,340.5 602.6,338.6 603.5,334.8 604.4,331.8 605.1,331.9 605.7,330.6 606.4,330.3 607.1,328.6 607.9,329.8 608.6,330.3 609.4,331.2 610.1,332.1 610.9,331.0 611.7,331.0 612.4,332.2 613.2,331.8 614.1,333.3 615.0,334.1 615.6,331.2 616.2,328.0 617.0,327.6 617.8,326.5 618.5,323.4 619.3,323.4 620.0,321.3 620.8,318.9 621.5,318.3 622.3,317.3 622.9,315.1 623.5,312.8 624.2,312.1 625.0,313.6 625.8,311.1 626.6,308.2 627.4,304.4 628.1,302.2 628.9,298.7 629.6,296.1 630.5,295.1 631.4,291.5 632.1,291.1 632.9,289.2 633.7,290.2 634.5,292.3 635.2,291.9 636.0,288.5 636.6,284.9 637.2,282.4 638.0,279.4 638.7,277.1 639.5,276.0 640.2,275.6 641.3,270.2 641.9,268.1 642.5,266.4 643.1,268.7 642.9,437.3"/>
<polygon fill="url(#bg7)" points="645.8,437.3 645.8,436.8 646.4,428.1 647.1,427.1 647.7,426.9 648.4,425.9 649.0,425.0 649.7,423.6 650.3,422.8 650.9,422.8 651.6,422.2 652.2,422.1 652.9,420.5 653.7,419.1 654.4,417.5 655.2,414.7 656.0,414.5 656.6,412.9 657.3,411.4 657.9,407.6 658.5,404.9 659.2,403.0 659.8,401.6 660.5,401.0 661.3,400.0 662.0,401.7 662.8,402.3 663.4,401.1 664.0,400.0 664.8,400.4 665.5,403.1 666.1,401.2 666.8,400.0 667.4,397.0 668.1,398.7 668.9,400.8 669.6,403.8 670.4,407.6 671.3,404.5 672.2,400.8 672.9,396.9 673.5,393.4 674.2,391.7 675.0,389.9 675.7,389.2 676.5,388.6 677.3,386.4 678.0,385.8 678.8,386.4 679.5,386.3 680.3,387.9 681.0,385.6 681.8,382.6 682.6,382.7 683.3,382.2 684.1,380.3 684.9,380.0 685.6,379.6 686.4,379.5 687.1,379.8 687.9,379.0 688.6,378.0 689.4,375.9 690.1,375.6 690.9,374.2 691.7,373.9 692.4,372.7 693.2,371.9 694.0,371.3 694.7,372.5 695.5,370.4 696.3,368.1 697.0,367.5 697.8,368.1 698.5,369.5 699.3,368.3 700.0,366.6 700.8,368.6 701.6,369.6 702.4,367.5 703.1,367.4 703.8,367.7 704.6,367.1 705.3,366.6 706.1,365.6 706.9,365.8 707.6,365.5 708.4,365.1 709.1,363.5 709.9,359.8 710.7,358.1 711.4,356.1 712.2,353.7 713.0,350.3 713.7,348.2 714.5,347.6 715.2,344.3 716.0,342.7 716.7,342.3 717.4,341.7 718.1,339.1 718.9,339.3 719.6,338.6 720.4,337.1 721.1,335.8 721.9,334.8 722.7,332.5 723.4,331.1 724.2,328.0 725.0,325.3 725.7,324.1 726.5,321.9 727.3,318.5 728.0,316.9 728.8,315.8 729.5,313.7 730.3,310.7 731.0,309.0 731.8,308.0 732.5,306.9 733.3,307.5 734.1,305.1 734.8,304.9 735.6,302.2 736.5,297.7 737.4,294.6 738.1,293.6 738.9,292.3 739.5,295.1 740.2,297.6 741.0,294.3 741.7,291.5 742.6,287.9 743.5,284.7 744.2,283.3 744.8,281.3 745.5,280.1 746.1,278.9 746.8,279.2 747.4,277.8 748.2,278.6 749.0,279.4 749.8,277.0 750.5,275.6 751.4,273.3 752.3,271.8 753.0,274.8 753.8,273.3 754.5,271.1 755.3,270.2 756.1,271.1 756.9,271.8 757.8,269.7 758.7,268.7 759.1,271.0 759.0,437.3"/>
<polygon fill="url(#bg8)" points="777.7,437.3 777.7,436.8 778.3,427.4 779.1,427.8 779.9,430.4 780.5,431.9 781.1,433.5 781.9,429.0 782.6,424.3 783.4,423.2 784.1,421.5 784.9,419.0 785.7,416.9 786.4,414.6 787.2,413.7 787.9,412.1 788.7,411.6 789.4,409.9 790.2,410.1 790.9,410.8 791.7,410.7 792.5,409.6 793.2,411.4 794.0,409.8 794.7,409.0 795.5,407.6 796.3,408.1 797.0,406.7 797.8,404.6 798.6,404.1 799.3,405.6 800.1,405.3 800.9,405.4 801.6,402.8 802.4,401.6 803.1,402.7 803.9,402.0 804.6,402.3 805.4,401.0 806.1,400.5 806.9,398.5 807.7,398.0 808.4,398.9 809.2,396.2 810.0,395.9 810.7,397.0 811.5,397.0 812.3,393.7 813.0,393.3 813.8,392.4 814.5,391.3 815.3,390.1 816.0,388.6 816.8,387.2 817.5,384.1 818.3,384.1 819.0,384.3 819.8,385.6 820.6,385.0 821.4,382.6 822.0,380.9 822.6,381.3 823.0,383.3 823.0,437.3"/>
<polygon fill="url(#bg9)" points="836.1,437.3 836.1,436.8 836.6,425.1 837.4,420.0 838.1,416.0 838.9,412.8 839.6,409.9 840.4,408.8 841.1,406.6 841.9,404.6 842.6,403.8 843.4,401.9 844.1,400.8 845.2,400.0 845.8,402.2 846.4,403.8 847.0,405.7 847.6,406.9 848.2,404.7 848.9,402.1 849.5,400.0 850.2,398.8 851.0,394.9 851.7,393.2 852.5,391.4 853.2,390.2 854.0,388.6 854.8,388.8 855.5,388.6 856.3,391.5 857.1,393.2 857.7,395.3 858.3,398.5 859.0,395.2 859.8,391.7 860.5,389.1 861.2,385.6 861.9,384.1 862.5,383.0 863.1,383.3 863.8,384.7 864.4,385.6 865.3,382.1 866.2,380.3 867.0,380.3 867.7,379.5 868.5,378.3 869.2,376.5 870.0,375.2 870.7,374.0 871.5,371.2 872.3,369.7 873.0,369.3 873.8,368.9 874.5,367.2 875.3,365.1 876.1,364.6 876.8,363.7 877.6,360.5 878.4,359.4 879.1,357.4 879.9,356.7 880.6,355.8 881.4,354.9 882.1,353.8 882.9,352.9 883.6,350.5 884.4,348.4 885.1,349.1 885.9,349.1 886.7,347.6 887.5,346.1 888.2,344.7 889.0,346.8 889.8,347.9 890.5,348.6 891.2,348.5 892.0,346.8 892.8,347.6 893.5,349.7 894.3,351.4 895.0,349.9 895.8,347.6 896.4,349.3 897.0,352.2 897.6,350.0 898.3,347.0 898.9,346.8 899.6,345.5 900.4,344.5 901.1,341.7 901.9,343.0 900.8,342.9 901.7,342.3 902.6,341.7 903.5,340.5 904.4,338.1 905.0,337.1 905.7,336.9 906.3,335.7 907.2,333.4 908.1,332.0 908.9,330.9 909.7,330.4 910.5,329.6 911.4,328.5 912.3,325.9 912.9,325.2 913.6,323.0 914.2,321.7 914.8,320.4 915.4,319.8 916.4,323.5 917.1,321.6 917.8,321.1 918.4,321.5 919.0,318.6 919.6,317.4 920.2,316.2 920.9,318.0 920.9,437.3"/>
</g>
<rect x="116.3" y="268.6" width="68.3" height="39.8" fill="#fffefc" stroke="#bdbdbd" stroke-width="1"/>
<text class="b" x="180.9" y="279.7" font-size="9.3" fill="#0a0a0a" stroke="#0a0a0a" stroke-width="0.22" text-anchor="end" textLength="38.1" lengthAdjust="spacingAndGlyphs">Duration</text>
<text x="180.9" y="290.9" font-size="9.3" fill="#0a0a0a" stroke="#0a0a0a" stroke-width="0.22" text-anchor="end" textLength="60.8" lengthAdjust="spacingAndGlyphs">% Total Return</text>
<text x="180.9" y="302.0" font-size="9.3" fill="#0a0a0a" stroke="#0a0a0a" stroke-width="0.22" text-anchor="end" textLength="57.9" lengthAdjust="spacingAndGlyphs">% Annualized</text>
<line x1="186.3" y1="278.5" x2="201.4" y2="284.7" stroke="#bbb" stroke-width="0.7"/>
<line x1="186.3" y1="288.2" x2="207.6" y2="297.1" stroke="#333" stroke-width="0.7"/>
<line x1="186.3" y1="298.9" x2="211.7" y2="308.8" stroke="#333" stroke-width="0.7"/>
<text class="bl b" x="120.8" y="326.8" text-anchor="middle" textLength="42.5" lengthAdjust="spacingAndGlyphs">3.7 years</text>
<text class="bl" x="120.8" y="339.2" text-anchor="middle" textLength="33.6" lengthAdjust="spacingAndGlyphs">193.3%</text>
<text class="bl" x="120.8" y="351.6" text-anchor="middle" textLength="28.2" lengthAdjust="spacingAndGlyphs">34.1%</text>
<text class="bl b" x="228.9" y="288.8" text-anchor="middle" textLength="48.3" lengthAdjust="spacingAndGlyphs">13.9 years</text>
<text class="bl" x="228.9" y="301.3" text-anchor="middle" textLength="34.2" lengthAdjust="spacingAndGlyphs">815.3%</text>
<text class="bl" x="228.9" y="313.8" text-anchor="middle" textLength="28.4" lengthAdjust="spacingAndGlyphs">17.2%</text>
<text class="bl b" x="334.2" y="296.5" text-anchor="middle" textLength="48.5" lengthAdjust="spacingAndGlyphs">15.1 years</text>
<text class="bl" x="334.2" y="308.9" text-anchor="middle" textLength="34.4" lengthAdjust="spacingAndGlyphs">935.8%</text>
<text class="bl" x="334.2" y="321.3" text-anchor="middle" textLength="28.3" lengthAdjust="spacingAndGlyphs">16.8%</text>
<text class="bl b" x="451.4" y="352.5" text-anchor="middle" textLength="42.7" lengthAdjust="spacingAndGlyphs">6.4 years</text>
<text class="bl" x="451.4" y="364.9" text-anchor="middle" textLength="33.2" lengthAdjust="spacingAndGlyphs">143.7%</text>
<text class="bl" x="451.4" y="377.3" text-anchor="middle" textLength="27.8" lengthAdjust="spacingAndGlyphs">14.9%</text>
<text class="bl b" x="509.2" y="364.6" text-anchor="middle" textLength="42.4" lengthAdjust="spacingAndGlyphs">2.5 years</text>
<text class="bl" x="509.2" y="377.3" text-anchor="middle" textLength="27.6" lengthAdjust="spacingAndGlyphs">75.6%</text>
<text class="bl" x="509.2" y="390.0" text-anchor="middle" textLength="27.6" lengthAdjust="spacingAndGlyphs">25.3%</text>
<text class="bl b" x="583.8" y="307.5" text-anchor="middle" textLength="48.0" lengthAdjust="spacingAndGlyphs">12.9 years</text>
<text class="bl" x="583.8" y="320.3" text-anchor="middle" textLength="33.9" lengthAdjust="spacingAndGlyphs">845.2%</text>
<text class="bl" x="583.8" y="333.1" text-anchor="middle" textLength="27.4" lengthAdjust="spacingAndGlyphs">19.0%</text>
<text class="bl b" x="706.2" y="304.5" text-anchor="middle" textLength="48.0" lengthAdjust="spacingAndGlyphs">12.8 years</text>
<text class="bl" x="706.2" y="316.9" text-anchor="middle" textLength="33.9" lengthAdjust="spacingAndGlyphs">816.5%</text>
<text class="bl" x="706.2" y="329.3" text-anchor="middle" textLength="27.0" lengthAdjust="spacingAndGlyphs">19.0%</text>
<text class="bl b" x="798.9" y="366.6" text-anchor="middle" textLength="42.6" lengthAdjust="spacingAndGlyphs">5.1 years</text>
<text class="bl" x="798.9" y="379.3" text-anchor="middle" textLength="33.6" lengthAdjust="spacingAndGlyphs">108.4%</text>
<text class="bl" x="798.9" y="392.0" text-anchor="middle" textLength="27.8" lengthAdjust="spacingAndGlyphs">15.5%</text>
<text class="bl b" x="889.6" y="309.5" text-anchor="middle" textLength="43.0" lengthAdjust="spacingAndGlyphs">9.6 years</text>
<text class="bl" x="889.6" y="321.9" text-anchor="middle" textLength="34.2" lengthAdjust="spacingAndGlyphs">384.8%</text>
<text class="bl" x="889.6" y="334.3" text-anchor="middle" textLength="27.7" lengthAdjust="spacingAndGlyphs">17.9%</text>
<text class="br b" x="145.6" y="586.2" text-anchor="middle" textLength="42.8" lengthAdjust="spacingAndGlyphs">2.8 years</text>
<text class="br" x="145.6" y="598.7" text-anchor="middle" textLength="32.1" lengthAdjust="spacingAndGlyphs">-83.4%</text>
<text class="br" x="145.6" y="611.2" text-anchor="middle" textLength="32.1" lengthAdjust="spacingAndGlyphs">-47.0%</text>
<text class="br b" x="276.0" y="467.8" text-anchor="middle" textLength="46.2" lengthAdjust="spacingAndGlyphs">6 months</text>
<text class="br" x="276.0" y="480.7" text-anchor="middle" textLength="31.4" lengthAdjust="spacingAndGlyphs">-21.8%</text>
<text class="br" x="276.0" y="493.6" text-anchor="middle" textLength="22.1" lengthAdjust="spacingAndGlyphs">N/A*</text>
<text class="br b" x="418.2" y="465.8" text-anchor="middle" textLength="45.8" lengthAdjust="spacingAndGlyphs">6 months</text>
<text class="br" x="418.2" y="478.6" text-anchor="middle" textLength="32.7" lengthAdjust="spacingAndGlyphs">-22.3%</text>
<text class="br" x="418.2" y="491.3" text-anchor="middle" textLength="23.4" lengthAdjust="spacingAndGlyphs">N/A*</text>
<text class="br b" x="485.0" y="475.1" text-anchor="middle" textLength="42.7" lengthAdjust="spacingAndGlyphs">1.6 years</text>
<text class="br" x="485.0" y="487.2" text-anchor="middle" textLength="32.1" lengthAdjust="spacingAndGlyphs">-29.3%</text>
<text class="br" x="485.0" y="499.3" text-anchor="middle" textLength="32.1" lengthAdjust="spacingAndGlyphs">-19.7%</text>
<text class="br b" x="533.7" y="490.6" text-anchor="middle" textLength="42.4" lengthAdjust="spacingAndGlyphs">1.8 years</text>
<text class="br" x="533.7" y="503.2" text-anchor="middle" textLength="32.4" lengthAdjust="spacingAndGlyphs">-42.6%</text>
<text class="br" x="533.7" y="515.8" text-anchor="middle" textLength="32.4" lengthAdjust="spacingAndGlyphs">-27.2%</text>
<text class="br b" x="649.2" y="477.1" text-anchor="middle" textLength="46.7" lengthAdjust="spacingAndGlyphs">3 months</text>
<text class="br" x="649.2" y="489.7" text-anchor="middle" textLength="32.9" lengthAdjust="spacingAndGlyphs">-29.6%</text>
<text class="br" x="649.2" y="502.3" text-anchor="middle" textLength="22.9" lengthAdjust="spacingAndGlyphs">N/A*</text>
<text class="br b" x="772.6" y="492.9" text-anchor="middle" textLength="42.8" lengthAdjust="spacingAndGlyphs">2.1 years</text>
<text class="br" x="772.6" y="505.5" text-anchor="middle" textLength="32.4" lengthAdjust="spacingAndGlyphs">-44.7%</text>
<text class="br" x="772.6" y="518.1" text-anchor="middle" textLength="32.4" lengthAdjust="spacingAndGlyphs">-24.8%</text>
<text class="br b" x="837.3" y="504.8" text-anchor="middle" textLength="42.4" lengthAdjust="spacingAndGlyphs">1.3 years</text>
<text class="br" x="837.3" y="517.2" text-anchor="middle" textLength="32.4" lengthAdjust="spacingAndGlyphs">-50.9%</text>
<text class="br" x="837.3" y="529.6" text-anchor="middle" textLength="32.4" lengthAdjust="spacingAndGlyphs">-41.4%</text>
<rect x="299.7" y="567" width="387.9" height="28" fill="#fffefd" stroke="#c9c9c9" stroke-width="1"/>
<rect x="324.6" y="576.7" width="22.6" height="9.9" fill="url(#lgb)"/>
<linearGradient id="lgb" x1="0" x2="1" y1="0" y2="0"><stop offset="0" stop-color="#1b3c7a"/><stop offset="1" stop-color="#02589b"/></linearGradient>
<rect x="324.6" y="580.6" width="22.6" height="0.8" fill="#5d86b8" opacity="0.7"/>
<rect x="449.1" y="576.7" width="22.6" height="9.9" fill="url(#bearg)"/>
<rect x="449.1" y="580.6" width="22.6" height="0.8" fill="#f79a72" opacity="0.8"/>
<rect x="578.3" y="575.8" width="22.3" height="11.2" fill="#fef5ef"/>
<rect x="578.3" y="575.8" width="6.5" height="11.2" fill="#fde6d8"/>
<rect x="588.2" y="575.8" width="3.4" height="11.2" fill="#fde6d8"/>
<rect x="594.9" y="575.8" width="1.1" height="11.2" fill="#fde6d8"/>
<rect x="597.0" y="575.8" width="3.6" height="11.2" fill="#fde6d8"/>
<text class="ax" x="353.1" y="585.8" textLength="57.7" lengthAdjust="spacingAndGlyphs" style="font-size:12px">Bull Market</text>
<text class="ax" x="477.1" y="585.8" textLength="62.9" lengthAdjust="spacingAndGlyphs" style="font-size:12px">Bear Market</text>
<text class="ax" x="606.7" y="585.8" textLength="50.6" lengthAdjust="spacingAndGlyphs" style="font-size:12px">Recession</text>
<text class="ax" x="75.0" y="264.8" textLength="11.0" lengthAdjust="spacingAndGlyphs">10</text>
<text class="ax" x="80.4" y="317.7" textLength="5.0" lengthAdjust="spacingAndGlyphs">5</text>
<text class="ax" x="81.2" y="442.7" textLength="4.6" lengthAdjust="spacingAndGlyphs">1</text>
<text class="ax" x="73.0" y="618.2" textLength="12.2" lengthAdjust="spacingAndGlyphs" style="font-size:11.1px">0.1</text>
<text class="ax" style="font-size:11.1px" x="136.5" y="629.2" text-anchor="middle" textLength="22.6" lengthAdjust="spacingAndGlyphs">1930</text>
<text class="ax" style="font-size:11.1px" x="226.0" y="629.2" text-anchor="middle" textLength="22.6" lengthAdjust="spacingAndGlyphs">1940</text>
<text class="ax" style="font-size:11.1px" x="315.5" y="629.2" text-anchor="middle" textLength="22.6" lengthAdjust="spacingAndGlyphs">1950</text>
<text class="ax" style="font-size:11.1px" x="405.0" y="629.2" text-anchor="middle" textLength="22.6" lengthAdjust="spacingAndGlyphs">1960</text>
<text class="ax" style="font-size:11.1px" x="494.5" y="629.2" text-anchor="middle" textLength="22.6" lengthAdjust="spacingAndGlyphs">1970</text>
<text class="ax" style="font-size:11.1px" x="584.0" y="629.2" text-anchor="middle" textLength="22.6" lengthAdjust="spacingAndGlyphs">1980</text>
<text class="ax" style="font-size:11.1px" x="673.5" y="629.2" text-anchor="middle" textLength="22.6" lengthAdjust="spacingAndGlyphs">1990</text>
<text class="ax" style="font-size:11.1px" x="763.0" y="629.2" text-anchor="middle" textLength="22.6" lengthAdjust="spacingAndGlyphs">2000</text>
<text class="ax" style="font-size:11.1px" x="852.8" y="629.2" text-anchor="middle" textLength="22.6" lengthAdjust="spacingAndGlyphs">2010</text>
<text class="ax" style="font-size:11.1px" x="915.8" y="629.2" text-anchor="middle" textLength="22.6" lengthAdjust="spacingAndGlyphs">2018</text>
<text class="ax" transform="translate(71.9,556.9) rotate(-90)" style="font-size:10.2px" textLength="240" lengthAdjust="spacingAndGlyphs">S&amp;P 500 Index Total Return <tspan class="i">(Logarithmic Scale)</tspan></text>
<text class="ft" x="23.0" y="648.0" textLength="516.8" lengthAdjust="spacingAndGlyphs">Source: First Trust Advisors L.P., Morningstar. Returns from 1926 - 9/28/18.&#160; *Not applicable since duration is less than one year.</text>
<text class="ft i" x="23.0" y="659.5" textLength="938.4" lengthAdjust="spacingAndGlyphs">These results are based on monthly returns–returns using different periods would produce different results. The S&amp;P 500 Index is an unmanaged index of 500 stocks used to measure large-cap U.S. stock market performance. Investors cannot</text>
<text class="ft i" x="23.0" y="670.7" textLength="919.4" lengthAdjust="spacingAndGlyphs">invest directly in an index. Index returns do not reflect any fees, expenses, or sales charges. This chart is for illustrative purposes only and not indicative of any actual investment. These returns were the result of certain market factors and</text>
<text class="ft i" x="23.0" y="681.9" textLength="386.5" lengthAdjust="spacingAndGlyphs">events which may not be repeated in the future. Past performance is no guarantee of future results.</text>
</svg></body></html>
